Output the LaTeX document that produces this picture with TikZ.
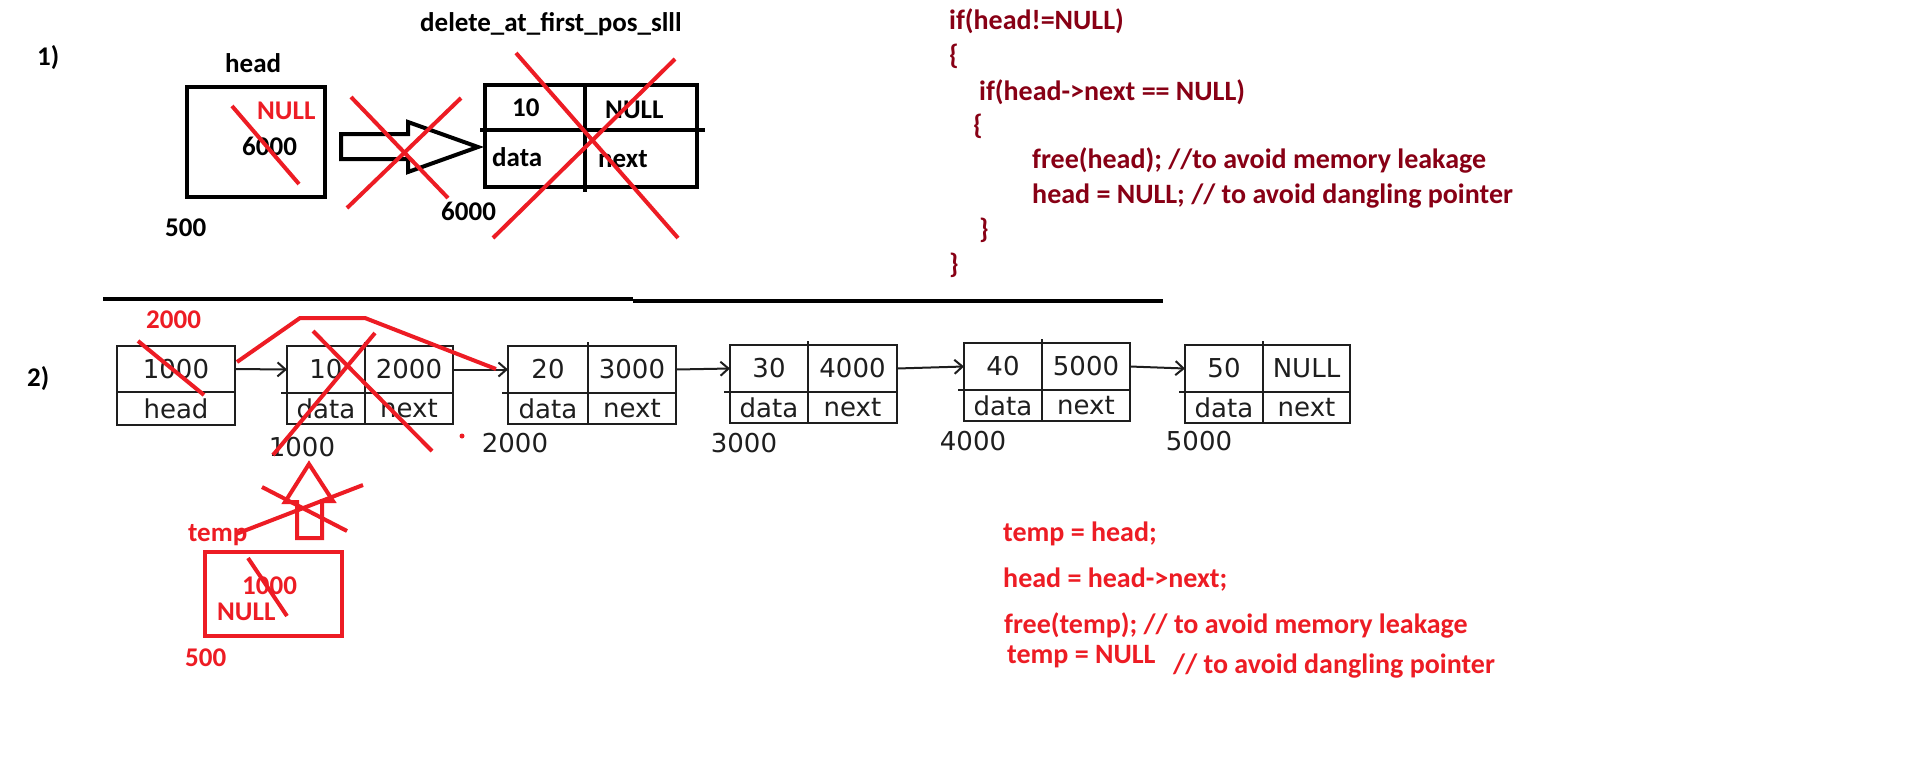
\documentclass[tikz,border=0pt]{standalone}
\usepackage{fontspec}
\setmainfont{Carlito}
\newfontfamily\lstfont{DejaVu Sans}
\usetikzlibrary{arrows.meta}
\definecolor{maroonc}{RGB}{136,0,21}
\definecolor{pred}{RGB}{237,28,36}
\definecolor{lgray}{RGB}{30,30,30}
\newcommand\mklist[7]{%
  \node[cell, minimum width=#4, minimum height=47, anchor=north west] (#1v) at (#2,#3) {#6};
  \node[cell, minimum width=#5, minimum height=47, anchor=north west] (#1p) at (#1v.north east) {#7};
  \node[cell, minimum width=#4, minimum height=31, anchor=north west] (#1dl) at (#1v.south west) {data};
  \node[cell, minimum width=#5, minimum height=31, anchor=north west] (#1nl) at (#1p.south west) {next};
  \draw[cellline] (#1dl.north west) -- ++(-6,0);
  \draw[cellline] (#1p.north west) -- ++(0,-4);
}
\begin{document}
\begin{tikzpicture}[x=1pt,y=-1pt,
  lbl/.style={anchor=base west, inner sep=0, font=\fontsize{27}{32}\selectfont\bfseries},
  rlbl/.style={lbl, text=pred},
  code/.style={anchor=base west, inner sep=0, text=maroonc, font=\fontsize{28}{33}\selectfont\bfseries},
  rcode/.style={code, text=pred},
  cell/.style={draw=lgray, line width=2pt, inner sep=0, outer sep=0, text=lgray, font=\lstfont\fontsize{26}{30}\selectfont},
  cellline/.style={draw=lgray, line width=2pt},
  ltext/.style={inner sep=0, text=lgray, font=\lstfont\fontsize{26}{30}\selectfont},
  thickbox/.style={draw=black, line width=4pt, inner sep=0, outer sep=0},
  strike/.style={draw=pred, line width=4pt},
  ptr/.style={draw=lgray, line width=2pt, -{Straight Barb[length=8pt,width=14pt,line width=2pt]}}
]
\useasboundingbox (0,0) rectangle (1910,772);
\fill[white] (0,0) rectangle (1910,772);

% ---------- section 1 ----------
\node[lbl] (one) at (37,65) {1)};
\node[lbl] (title) at (420,31) {delete\_at\_first\_pos\_slll};
\node[lbl] (headlbl) at (225,72) {head};
\node[thickbox, minimum width=138, minimum height=110] (h1) at (256,142) {};
\node[rlbl] (h1null) at (257,119) {NULL};
\node[lbl] (h1val) at (242,155) {6000};
\draw[strike] (232,106) -- (299,184);
\node[lbl] (h1addr) at (165,236) {500};

% block arrow
\draw[line width=4pt, line join=miter] (341,134) -- (408,134) -- (408,122) -- (478,147) -- (408,172) -- (408,159) -- (341,159) -- cycle;
\draw[strike] (351,97) -- (448,198);
\draw[strike] (461,98) -- (347,208);
\node[lbl] (n0addr) at (441,220) {6000};

% node box
\node[thickbox, minimum width=100, minimum height=45, anchor=north west] (n0v) at (485,85) {};
\node[thickbox, minimum width=112, minimum height=45, anchor=north west] (n0p) at (n0v.north east) {};
\node[thickbox, minimum width=100, minimum height=57, anchor=north west] (n0dl) at (n0v.south west) {};
\node[thickbox, minimum width=112, minimum height=57, anchor=north west] (n0nl) at (n0p.south west) {};
\draw[line width=4pt] (n0v.south west) -- ++(-5,0);
\draw[line width=4pt] (n0p.south east) -- ++(8,0);
\draw[line width=4pt] (n0nl.south west) -- ++(0,5);
\node[lbl] (n0val) at (512,116) {10};
\node[lbl] (n0ptr) at (605,118) {NULL};
\node[lbl] (n0dt) at (492,166) {data};
\node[lbl] (n0nx) at (598,167) {next};
\draw[strike] (516,53) -- (678,238);
\draw[strike] (675,59) -- (493,238);

% code
\node[code] (c1) at (949,29) {if(head!=NULL)};
\node[code] (c2) at (949,64) {\{};
\node[code] (c3) at (979,100) {if(head->next == NULL)};
\node[code] (c4) at (973,134) {\{};
\node[code] (c5) at (1032,168) {free(head); //to avoid memory leakage};
\node[code] (c6) at (1032,203) {head = NULL; // to avoid dangling pointer};
\node[code] (c7) at (979,238) {\}};
\node[code] (c8) at (949,273) {\}};

% separator
\draw[line width=4pt] (103,299) -- (633,299);
\draw[line width=4pt] (633,300.5) -- (1163,300.5);

% ---------- section 2 ----------
\node[lbl] (two) at (27,386) {2)};
\node[rlbl] (hnew) at (146,328) {2000};

\node[cell, minimum width=118, minimum height=46, anchor=north west] (hv) at (117,346) {1000};
\node[cell, minimum width=118, minimum height=33, anchor=north west] (hl) at (hv.south west) {head};

\mklist{n1}{287}{346}{78}{88}{10}{2000}
\mklist{n2}{508}{346}{80}{88}{20}{3000}
\mklist{n3}{730}{345}{78}{89}{30}{4000}
\mklist{n4}{964}{343}{78}{88}{40}{5000}
\mklist{n5}{1185}{345}{78}{87}{50}{NULL}

\draw[ptr] (hv.east) -- (n1v.west);
\draw[ptr] (n1p.east) -- (n2v.west);
\draw[ptr] (n2p.east) -- (n3v.west);
\draw[ptr] (n3p.east) -- (n4v.west);
\draw[ptr] (n4p.east) -- (n5v.west);

\node[ltext] (a1) at (302,447) {1000};
\node[ltext] (a2) at (515,443) {2000};
\node[ltext] (a3) at (744,443) {3000};
\node[ltext] (a4) at (973,441) {4000};
\node[ltext] (a5) at (1199,441) {5000};

% red annotations
\draw[strike] (138,341) -- (204,395);
\draw[strike, line join=round] (237,362) -- (300,318) -- (365,318) -- (496,369);
\draw[strike] (313,331) -- (432,451);
\draw[strike] (375,333) -- (273,455);
\fill[pred] (462,436) circle (2.5);

% red up arrow
\draw[strike, line join=miter] (297,502) -- (285,502) -- (309,464) -- (333,501) -- (322,501) -- (322,538) -- (297,538) -- cycle;
\draw[strike] (262,487) -- (347,531);
\draw[strike] (363,485) -- (236,534);

\node[rlbl] (templbl) at (188,541) {temp};
\node[draw=pred, line width=4pt, minimum width=137, minimum height=84, anchor=north west, inner sep=0] (tbox) at (203,550) {};
\node[rlbl] (tval) at (242,594) {1000};
\node[rlbl] (tnull) at (217,620) {NULL};
\draw[strike] (248,558) -- (287,616);
\node[rlbl] (taddr) at (185,666) {500};

\node[rcode] (r1) at (1003,541) {temp = head;};
\node[rcode] (r2) at (1003,587) {head = head->next;};
\node[rcode] (r3) at (1004,633) {free(temp); // to avoid memory leakage};
\node[rcode] (r4) at (1007,663) {temp = NULL};
\node[rcode] (r5) at (1173,673) {// to avoid dangling pointer};
\end{tikzpicture}
\end{document}
